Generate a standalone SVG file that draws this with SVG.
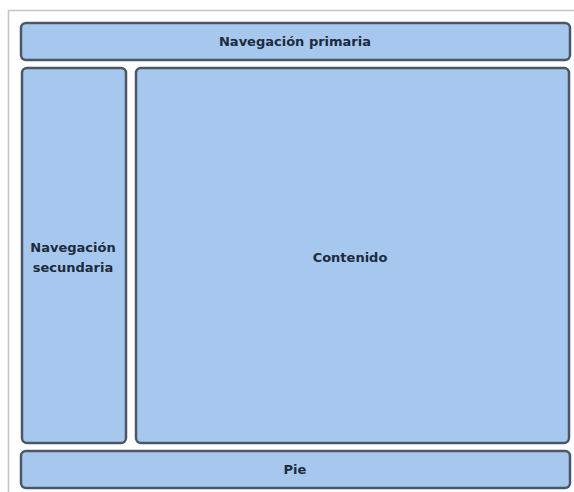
<svg xmlns="http://www.w3.org/2000/svg" width="574" height="492" viewBox="0 0 574 492">
<style>
.box{fill:#a7c8ee;stroke:#4b5667;stroke-width:2.5}
.lbl{font-family:"DejaVu Sans",Verdana,sans-serif;font-size:13px;fill:#1c2b3d;text-anchor:middle;font-weight:bold}
</style>
<rect width="574" height="492" fill="#ffffff"/>
<path d="M8.5 492 V10.5 H574" fill="none" stroke="#c4c4c4" stroke-width="1.5"/>
<g id="nav-primaria">
<rect class="box" x="21" y="23" width="549" height="37" rx="5"/>
<text class="lbl" x="295" y="46">Navegación primaria</text>
</g>
<g id="nav-secundaria">
<rect class="box" x="22" y="68" width="104" height="375" rx="5"/>
<text class="lbl" x="73" y="252">Navegación</text>
<text class="lbl" x="73" y="272">secundaria</text>
</g>
<g id="contenido">
<rect class="box" x="136" y="68" width="433" height="375" rx="5"/>
<text class="lbl" x="350" y="262">Contenido</text>
</g>
<g id="pie">
<rect class="box" x="21" y="451" width="549" height="37" rx="5"/>
<text class="lbl" x="295" y="474">Pie</text>
</g>
<g id="connectors"></g>
</svg>
